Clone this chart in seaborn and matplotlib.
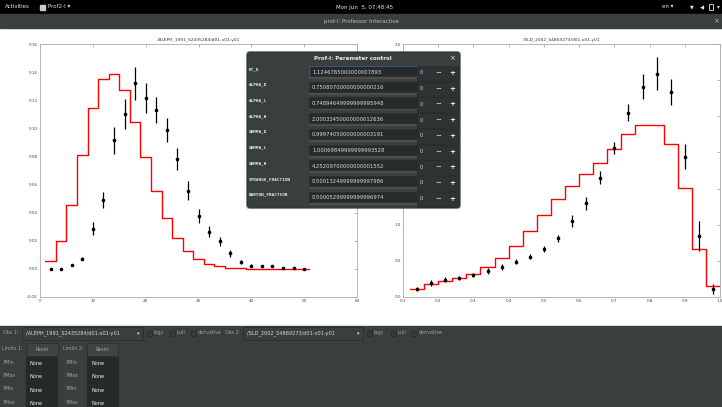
import numpy as np
import matplotlib
matplotlib.use("Agg")
import matplotlib.pyplot as plt
from matplotlib.patches import Rectangle, FancyBboxPatch
import seaborn as sns

# ---- data: ALEPH (left) ----
aleph_edges = [1, 3, 5, 7, 9, 11, 13, 15, 17, 19, 21, 23, 25, 27, 29, 31, 33, 35,
               37, 39, 41, 43, 45, 47, 49, 51]
aleph_model = [0.0059, 0.0196, 0.0457, 0.081, 0.1145, 0.135, 0.1385, 0.127, 0.1046,
               0.0794, 0.0556, 0.0363, 0.0222, 0.013, 0.0069, 0.0038, 0.0017, 0.0007,
               0.0003, 0.0002, 0.0001, 0.0001, 0.0001, 0.0, 0.0]
aleph_x = [2, 4, 6, 8, 10, 12, 14, 16, 18, 20, 22, 24, 26, 28, 30, 32, 34, 36, 38,
           40, 42, 44, 46, 48, 50]
aleph_y = [-0.0002, -0.0001, 0.0026, 0.0073, 0.0285, 0.049, 0.0914, 0.110, 0.132,
           0.1213, 0.1129, 0.0985, 0.0785, 0.0556, 0.0375, 0.0266, 0.0196, 0.011,
           0.0047, 0.0024, 0.0022, 0.0017, 0.0007, 0.0004, 0.0001]
aleph_err = [0.0003, 0.0003, 0.0006, 0.001, 0.0047, 0.006, 0.0094, 0.0108, 0.0115,
             0.0106, 0.0094, 0.0085, 0.0078, 0.0066, 0.005, 0.004, 0.003, 0.0025,
             0.0015, 0.0008, 0.0006, 0.0006, 0.0004, 0.0003, 0.0003]

# ---- data: SLD (right) ----
sld_edges = [0.12, 0.16, 0.20, 0.24, 0.28, 0.32, 0.36, 0.40, 0.44, 0.48, 0.52, 0.56,
             0.60, 0.64, 0.68, 0.72, 0.76, 0.80, 0.84, 0.88, 0.92, 0.96, 1.00]
sld_model = [0.115, 0.18, 0.22, 0.26, 0.32, 0.42, 0.54, 0.70, 0.91, 1.14, 1.35, 1.54,
             1.70, 1.86, 2.05, 2.25, 2.38, 2.38, 2.12, 1.51, 0.67, 0.15]
sld_x = [0.14, 0.18, 0.22, 0.26, 0.30, 0.34, 0.38, 0.42, 0.46, 0.50, 0.54, 0.58,
         0.62, 0.66, 0.70, 0.74, 0.78, 0.82, 0.86, 0.90, 0.94, 0.98]
sld_y = [0.115, 0.195, 0.24, 0.26, 0.30, 0.36, 0.41, 0.49, 0.56, 0.66, 0.81, 1.05,
         1.30, 1.65, 2.06, 2.55, 2.91, 3.09, 2.83, 1.94, 0.84, 0.11]
sld_err = [0.03, 0.04, 0.03, 0.03, 0.03, 0.04, 0.04, 0.04, 0.04, 0.04, 0.05, 0.08,
           0.09, 0.09, 0.08, 0.12, 0.17, 0.23, 0.18, 0.17, 0.21, 0.07]

# ---- parameter dialog ----
param_names = ["KT_D", "ALPHA_D", "ALPHA_L", "ALPHA_H", "GAMMA_D", "GAMMA_L",
               "GAMMA_H", "STRANGE_FRACTION", "BARYON_FRACTION"]
param_values = ["1.1246765000000007893", "0.75080700000000000216",
                "0.74894649999999995948", "2.00033450000000012636",
                "0.99974050000000003191", "1.00069849999999993528",
                "4.25209700000000001552", "0.50013249999999997986",
                "0.50005299999999996974"]

GUI = "#393f3f"
FIELD = "#262a2a"
W, H = 722, 407

sns.set_style("white")
plt.rcParams["font.family"] = ["DejaVu Sans"]

fig = plt.figure(figsize=(W / 100, H / 100), dpi=100)

# background / window chrome in pixel coords
bg = fig.add_axes([0, 0, 1, 1])
bg.set_xlim(0, W)
bg.set_ylim(H, 0)
bg.axis("off")
bg.add_patch(Rectangle((0, 0), W, 14, color="black"))
bg.add_patch(Rectangle((0, 14), W, 14, color=GUI))
bg.add_patch(Rectangle((0, 326), W, 81, color=GUI))
tb = dict(color="#e6e6e6", fontsize=4, va="center")
bg.text(5, 7, "Activities", **tb)
bg.add_patch(Rectangle((40, 4.5), 5, 5, color="#cccccc"))
bg.text(48, 7, "Prof2-I \u25be", **tb)
bg.text(365, 7, "Mon Jun  5, 07:48:45", ha="center", **tb)
bg.text(662, 7, "en \u25be", **tb)
bg.text(690, 7, "\u25bc", **dict(tb, fontsize=3.5))
bg.text(700, 7, "\u25c0\u0029", **dict(tb, fontsize=3.5))
bg.add_patch(Rectangle((709, 4), 4, 6, fill=False, ec="#e6e6e6", lw=0.6))
bg.text(717, 7, "\u25be", **tb)
bg.text(361, 21, "prof-I: Professor Interactive", color="#b8bcbc", fontsize=4,
        ha="center", va="center")
bg.text(716, 21, "\u00d7", color="#b8bcbc", fontsize=5, ha="center", va="center")

# bottom panel widgets
lab = dict(color="#9ea3a3", fontsize=3.4, va="center")
txt = dict(color="#d8dada", fontsize=3.6, va="center")


def combo(x0, x1, label):
    bg.add_patch(Rectangle((x0, 326.5), x1 - x0, 13.5, fc=GUI, ec="#2a2e2e", lw=0.6))
    bg.text(x0 + 4, 333.5, label, **txt)
    bg.text(x1 - 6, 333.5, "\u25be", **txt)


def checks(xs, names):
    for x, n in zip(xs, names):
        bg.add_patch(Rectangle((x, 330.5), 5, 5, fc="#353a3a", ec="#2a2e2e", lw=0.6))
        bg.text(x + 7, 332.5, n, **lab)


bg.text(3, 332.5, "Obs 1:", **lab)
combo(22, 143, "/ALEPH_1991_S2435284/d01-x01-y01")
checks([147, 170, 191], ["logy", "pull", "derivative"])
bg.text(225, 332.5, "Obs 2:", **lab)
combo(243, 363, "/SLD_2002_S4869273/d01-x01-y01")
checks([367, 391, 412], ["logy", "pull", "derivative"])

for lx, bx, t in [(2, 27, "Limits 1:"), (63, 87, "Limits 2:")]:
    bg.text(lx, 349, t, **lab)
    bg.add_patch(Rectangle((bx, 343), 31, 13, fc="#3f4545", ec="#2c3030", lw=0.6))
    bg.text(bx + 15.5, 349.5, "Reset", ha="center", **lab)

for i, name in enumerate(["XMin", "XMax", "YMin", "YMax"]):
    top = 357 + 13.4 * i
    for lx, fx in [(3, 26), (66, 87)]:
        bg.text(lx, top + 5, name, **lab)
        bg.add_patch(Rectangle((fx, top), 31, 12.5, color=FIELD))
        bg.text(fx + 4, top + 6.5, "None", color="#f0f0f0", fontsize=3.6, va="center")

# ---- the two plots ----
def setup(ax, title):
    ax.set_title(title, fontsize=3.2, pad=2, color="#333333")
    ax.tick_params(direction="in", top=True, right=True, labelsize=3, length=2.5,
                   width=0.5, color="#999999", labelcolor="#444444", pad=1.5)
    for s in ax.spines.values():
        s.set_color("#aaaaaa")
        s.set_linewidth(0.6)
    ax.set_xlabel("")
    ax.set_ylabel("")


ax1 = fig.add_axes([40 / W, 1 - 297 / H, 317 / W, 253 / H])
sns.lineplot(x=aleph_edges, y=aleph_model + [aleph_model[-1]], drawstyle="steps-post",
             color="red", lw=1.0, ax=ax1)
ax1.errorbar(aleph_x, aleph_y, yerr=aleph_err, fmt="o", ms=1.6, color="black",
             elinewidth=0.9, capsize=0)
ax1.set_xlim(0, 60)
ax1.set_ylim(-0.02, 0.16)
ax1.set_xticks([0, 10, 20, 30, 40, 50, 60])
ax1.set_yticks([-0.02, 0.0, 0.02, 0.04, 0.06, 0.08, 0.10, 0.12, 0.14, 0.16])
ax1.set_yticklabels(["-0.02", "0.00", "0.02", "0.04", "0.06", "0.08", "0.10",
                     "0.12", "0.14", "0.16"])
setup(ax1, "/ALEPH_1991_S2435284/d01-x01-y01")

ax2 = fig.add_axes([403 / W, 1 - 297 / H, 317 / W, 253 / H])
sns.lineplot(x=sld_edges, y=sld_model + [sld_model[-1]], drawstyle="steps-post",
             color="red", lw=1.0, ax=ax2)
ax2.errorbar(sld_x, sld_y, yerr=sld_err, fmt="o", ms=1.6, color="black",
             elinewidth=0.9, capsize=0)
ax2.set_xlim(0.1, 1.0)
ax2.set_ylim(0, 3.5)
ax2.set_xticks([0.1, 0.2, 0.3, 0.4, 0.5, 0.6, 0.7, 0.8, 0.9, 1.0])
ax2.set_yticks([0.0, 0.5, 1.0, 1.5, 2.0, 2.5, 3.0, 3.5])
setup(ax2, "/SLD_2002_S4869273/d01-x01-y01")

# ---- parameter control dialog on top ----
dl = fig.add_axes([0, 0, 1, 1], zorder=10)
dl.set_xlim(0, W)
dl.set_ylim(H, 0)
dl.axis("off")
dl.patch.set_alpha(0)
dl.add_patch(FancyBboxPatch((246, 51), 215, 158, boxstyle="round,pad=0,rounding_size=3",
                            fc="#222222", ec="none", alpha=0.35))
dl.add_patch(FancyBboxPatch((247, 52), 213, 156, boxstyle="round,pad=0,rounding_size=3",
                            fc=GUI, ec="#2a2e2e", lw=0.5))
dl.text(353, 58.5, "Prof-I: Parameter control", color="#e8e8e8", fontsize=4,
        ha="center", va="center", fontweight="bold")
dl.text(452, 58.5, "\u00d7", color="#e8e8e8", fontsize=5, ha="center", va="center")
for i, (n, v) in enumerate(zip(param_names, param_values)):
    top = 66 + 15.7 * i
    dl.text(249, top + 3, n, color="#e8e8e8", fontsize=3.2, va="center",
            fontweight="bold", family="DejaVu Sans Mono")
    dl.add_patch(Rectangle((309, top), 108, 12, fc=FIELD,
                           ec="#3a6a9a" if i == 0 else "#2a2e2e", lw=0.5))
    dl.add_patch(Rectangle((309, top + 11.2), 108, 0.8, color="#4a5050"))
    dl.text(312, top + 6, v, color="#d8dada", fontsize=3.8, va="center")
    dl.add_patch(Rectangle((417, top), 41, 15, fc="#2e3333", ec="#262a2a", lw=0.5))
    dl.text(420, top + 7, "0", color="#cfd2d2", fontsize=3.8, va="center")
    dl.text(438, top + 7, "\u2212", color="#e8e8e8", fontsize=5, va="center", ha="center")
    dl.text(452, top + 7, "+", color="#f4f4f4", fontsize=5, va="center", ha="center",
            fontweight="bold")

fig.savefig("out.png", dpi=100)
